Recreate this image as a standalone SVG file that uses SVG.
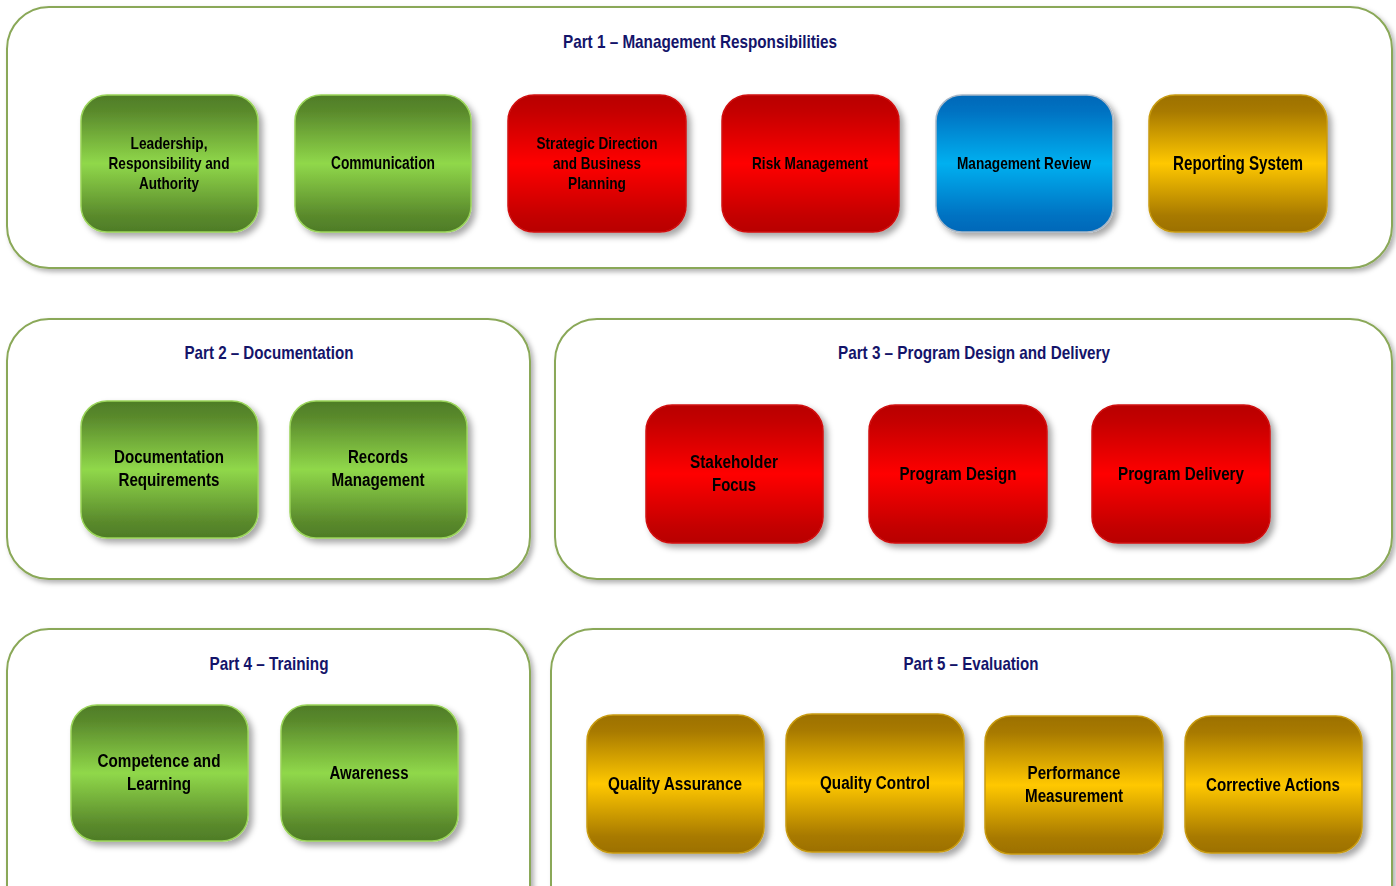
<svg xmlns="http://www.w3.org/2000/svg" width="1396" height="886" viewBox="0 0 1396 886">
<defs>
<linearGradient id="gGreen" x1="0" y1="0" x2="0" y2="1">
<stop offset="0" stop-color="#4e7c27"/><stop offset="0.12" stop-color="#5a8a2c"/><stop offset="0.5" stop-color="#90d84a"/><stop offset="0.88" stop-color="#5a8a2c"/><stop offset="1" stop-color="#4e7c27"/>
</linearGradient>
<linearGradient id="gRed" x1="0" y1="0" x2="0" y2="1">
<stop offset="0" stop-color="#b80000"/><stop offset="0.12" stop-color="#c40000"/><stop offset="0.5" stop-color="#ff0000"/><stop offset="0.88" stop-color="#c40000"/><stop offset="1" stop-color="#b80000"/>
</linearGradient>
<linearGradient id="gBlue" x1="0" y1="0" x2="0" y2="1">
<stop offset="0" stop-color="#0068b8"/><stop offset="0.12" stop-color="#0072c2"/><stop offset="0.5" stop-color="#00b0f0"/><stop offset="0.88" stop-color="#0072c2"/><stop offset="1" stop-color="#0068b8"/>
</linearGradient>
<linearGradient id="gGold" x1="0" y1="0" x2="0" y2="1">
<stop offset="0" stop-color="#9c7000"/><stop offset="0.12" stop-color="#a87a00"/><stop offset="0.5" stop-color="#ffc800"/><stop offset="0.88" stop-color="#a87a00"/><stop offset="1" stop-color="#9c7000"/>
</linearGradient>
<filter id="sh" x="-10%" y="-10%" width="125%" height="125%">
<feDropShadow dx="4" dy="4" stdDeviation="3" flood-color="#000" flood-opacity="0.35"/>
</filter>
<filter id="shc" x="-5%" y="-5%" width="112%" height="115%">
<feDropShadow dx="3" dy="3" stdDeviation="2.5" flood-color="#000" flood-opacity="0.3"/>
</filter>
</defs>
<style>
.cont{fill:#fff;stroke:#8aa858;stroke-width:2;filter:url(#shc)}
.title{font-family:"Liberation Sans",Arial,sans-serif;font-weight:bold;font-size:19px;fill:#14146a;text-anchor:middle}
.node{filter:url(#sh)}
.green{fill:url(#gGreen);stroke:#9ad45a;stroke-width:1.5}
.red{fill:url(#gRed);stroke:#d01010;stroke-width:1.5}
.blue{fill:url(#gBlue);stroke:#a8b8c8;stroke-width:1.5}
.gold{fill:url(#gGold);stroke:#c89a10;stroke-width:1.5}
.lbl{font-family:"Liberation Sans",Arial,sans-serif;font-weight:bold;font-size:18px;fill:#000;text-anchor:middle}
.s16{font-size:17px}
.s19{font-size:20px}
</style>
<g id="part1">
<rect class="cont" x="7" y="7" width="1385" height="261" rx="42"/>
<text class="title" x="700" y="48" textLength="274" lengthAdjust="spacingAndGlyphs">Part 1 – Management Responsibilities</text>
</g>
<g id="part2">
<rect class="cont" x="7" y="319" width="523" height="260" rx="42"/>
<text class="title" x="269" y="359" textLength="169" lengthAdjust="spacingAndGlyphs">Part 2 – Documentation</text>
</g>
<g id="part3">
<rect class="cont" x="555" y="319" width="837" height="260" rx="42"/>
<text class="title" x="974" y="359" textLength="272" lengthAdjust="spacingAndGlyphs">Part 3 – Program Design and Delivery</text>
</g>
<g id="part4">
<rect class="cont" x="7" y="629" width="523" height="300" rx="42"/>
<text class="title" x="269" y="670" textLength="119" lengthAdjust="spacingAndGlyphs">Part 4 – Training</text>
</g>
<g id="part5">
<rect class="cont" x="551" y="629" width="841" height="300" rx="42"/>
<text class="title" x="971" y="670" textLength="135" lengthAdjust="spacingAndGlyphs">Part 5 – Evaluation</text>
</g>
<g id="connectors"></g>
<g id="n-leadership" class="node">
<rect class="green" x="81" y="95" width="177" height="137" rx="26"/>
<text class="lbl s16" x="169" y="149" textLength="77" lengthAdjust="spacingAndGlyphs">Leadership,</text>
<text class="lbl s16" x="169" y="169" textLength="121" lengthAdjust="spacingAndGlyphs">Responsibility and</text>
<text class="lbl s16" x="169" y="189" textLength="60" lengthAdjust="spacingAndGlyphs">Authority</text>
</g>
<g id="n-communication" class="node">
<rect class="green" x="295" y="95" width="176" height="137" rx="26"/>
<text class="lbl" x="383" y="169" textLength="104" lengthAdjust="spacingAndGlyphs">Communication</text>
</g>
<g id="n-strategic" class="node">
<rect class="red" x="508" y="95" width="178" height="137" rx="26"/>
<text class="lbl s16" x="597" y="149" textLength="121" lengthAdjust="spacingAndGlyphs">Strategic Direction</text>
<text class="lbl s16" x="597" y="169" textLength="88" lengthAdjust="spacingAndGlyphs">and Business</text>
<text class="lbl s16" x="597" y="189" textLength="58" lengthAdjust="spacingAndGlyphs">Planning</text>
</g>
<g id="n-risk" class="node">
<rect class="red" x="722" y="95" width="177" height="137" rx="26"/>
<text class="lbl s16" x="810" y="169" textLength="116" lengthAdjust="spacingAndGlyphs">Risk Management</text>
</g>
<g id="n-review" class="node">
<rect class="blue" x="936" y="95" width="177" height="137" rx="26"/>
<text class="lbl s16" x="1024" y="169" textLength="134" lengthAdjust="spacingAndGlyphs">Management Review</text>
</g>
<g id="n-reporting" class="node">
<rect class="gold" x="1149" y="95" width="178" height="137" rx="26"/>
<text class="lbl s19" x="1238" y="170" textLength="130" lengthAdjust="spacingAndGlyphs">Reporting System</text>
</g>
<g id="n-docreq" class="node">
<rect class="green" x="81" y="401" width="177" height="137" rx="26"/>
<text class="lbl" x="169" y="463" textLength="110" lengthAdjust="spacingAndGlyphs">Documentation</text>
<text class="lbl" x="169" y="486" textLength="101" lengthAdjust="spacingAndGlyphs">Requirements</text>
</g>
<g id="n-records" class="node">
<rect class="green" x="290" y="401" width="177" height="137" rx="26"/>
<text class="lbl" x="378" y="463" textLength="60" lengthAdjust="spacingAndGlyphs">Records</text>
<text class="lbl" x="378" y="486" textLength="93" lengthAdjust="spacingAndGlyphs">Management</text>
</g>
<g id="n-stakeholder" class="node">
<rect class="red" x="646" y="405" width="177" height="138" rx="26"/>
<text class="lbl" x="734" y="468" textLength="88" lengthAdjust="spacingAndGlyphs">Stakeholder</text>
<text class="lbl" x="734" y="491" textLength="44" lengthAdjust="spacingAndGlyphs">Focus</text>
</g>
<g id="n-progdesign" class="node">
<rect class="red" x="869" y="405" width="178" height="138" rx="26"/>
<text class="lbl" x="958" y="480" textLength="117" lengthAdjust="spacingAndGlyphs">Program Design</text>
</g>
<g id="n-progdelivery" class="node">
<rect class="red" x="1092" y="405" width="178" height="138" rx="26"/>
<text class="lbl" x="1181" y="480" textLength="126" lengthAdjust="spacingAndGlyphs">Program Delivery</text>
</g>
<g id="n-competence" class="node">
<rect class="green" x="71" y="705" width="177" height="136" rx="26"/>
<text class="lbl" x="159" y="767" textLength="123" lengthAdjust="spacingAndGlyphs">Competence and</text>
<text class="lbl" x="159" y="790" textLength="64" lengthAdjust="spacingAndGlyphs">Learning</text>
</g>
<g id="n-awareness" class="node">
<rect class="green" x="281" y="705" width="177" height="136" rx="26"/>
<text class="lbl" x="369" y="779" textLength="79" lengthAdjust="spacingAndGlyphs">Awareness</text>
</g>
<g id="n-qa" class="node">
<rect class="gold" x="587" y="715" width="177" height="138" rx="26"/>
<text class="lbl" x="675" y="790" textLength="134" lengthAdjust="spacingAndGlyphs">Quality Assurance</text>
</g>
<g id="n-qc" class="node">
<rect class="gold" x="786" y="714" width="178" height="138" rx="26"/>
<text class="lbl" x="875" y="789" textLength="110" lengthAdjust="spacingAndGlyphs">Quality Control</text>
</g>
<g id="n-perf" class="node">
<rect class="gold" x="985" y="716" width="178" height="138" rx="26"/>
<text class="lbl" x="1074" y="779" textLength="93" lengthAdjust="spacingAndGlyphs">Performance</text>
<text class="lbl" x="1074" y="802" textLength="98" lengthAdjust="spacingAndGlyphs">Measurement</text>
</g>
<g id="n-corrective" class="node">
<rect class="gold" x="1185" y="716" width="177" height="137" rx="26"/>
<text class="lbl" x="1273" y="791" textLength="134" lengthAdjust="spacingAndGlyphs">Corrective Actions</text>
</g>
</svg>
